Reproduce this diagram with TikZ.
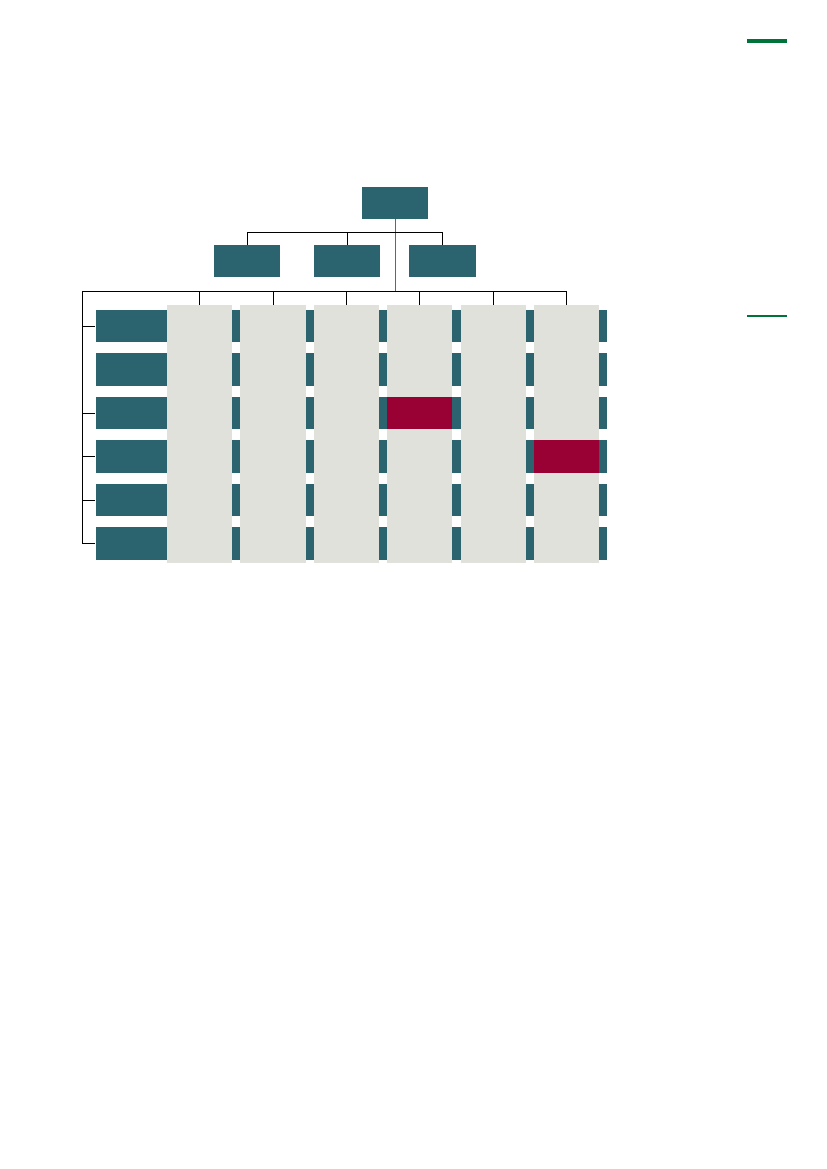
\documentclass[tikz,border=0pt]{standalone}
\definecolor{tealbox}{HTML}{2B636E}
\definecolor{graycol}{HTML}{E1E1DC}
\definecolor{redcell}{HTML}{990033}
\definecolor{greenbar}{HTML}{00733A}
\begin{document}
\begin{tikzpicture}[x=1bp,y=-1bp,
  tbox/.style={fill=tealbox,draw=none,inner sep=0pt,minimum width=66bp,minimum height=32bp},
  rowbar/.style={fill=tealbox,draw=none,inner sep=0pt,minimum width=511.6bp,minimum height=32.4bp},
  colbox/.style={fill=graycol,draw=none,inner sep=0pt,minimum width=65.3bp,minimum height=258.3bp},
  redbox/.style={fill=redcell,draw=none,inner sep=0pt,minimum width=65.3bp,minimum height=32.4bp},
  conn/.style={line width=0.8bp,black},
  trunk/.style={line width=0.8bp,black!60}]
\useasboundingbox (0,0) rectangle (827,1169);
% green marks
\fill[greenbar] (747,39) rectangle (787,43);
\fill[greenbar] (747,315) rectangle (787,317.3);
% top levels
\node[tbox] (top) at (395,203) {};
\node[tbox] (b1) at (247,261) {};
\node[tbox] (b2) at (347,261) {};
\node[tbox,minimum width=67bp] (b3) at (442.5,261) {};
% row bars
\foreach \j in {1,...,6}
  \node[rowbar] (r\j) at (351.5,{325.9+43.5*(\j-1)}) {};
% columns
\foreach \i in {1,...,6}
  \node[colbox] (c\i) at ({199.6+73.4*(\i-1)},434.2) {};
% red cells
\node[redbox] (x1) at (c4 |- r3) {};
\node[redbox] (x2) at (c6 |- r4) {};
% connectors
\coordinate (h) at (0,232.3);
\coordinate (busL) at (82.3,291.3);
\draw[trunk] (top.south) -- (top.south |- busL);
\draw[conn] (b1.north |- h) -- (b3.north |- h);
\foreach \b in {b1,b2,b3}
  \draw[conn] (\b.north |- h) -- (\b.north);
\draw[conn] (busL) -- (c6.north |- busL);
\foreach \i in {1,...,6}
  \draw[conn] (c\i.north |- busL) -- (c\i.north);
\draw[conn] (busL) |- (r6.west);
\foreach \j in {1,3,4,5}
  \draw[conn] (busL |- r\j.west) -- (r\j.west);
\end{tikzpicture}
\end{document}
